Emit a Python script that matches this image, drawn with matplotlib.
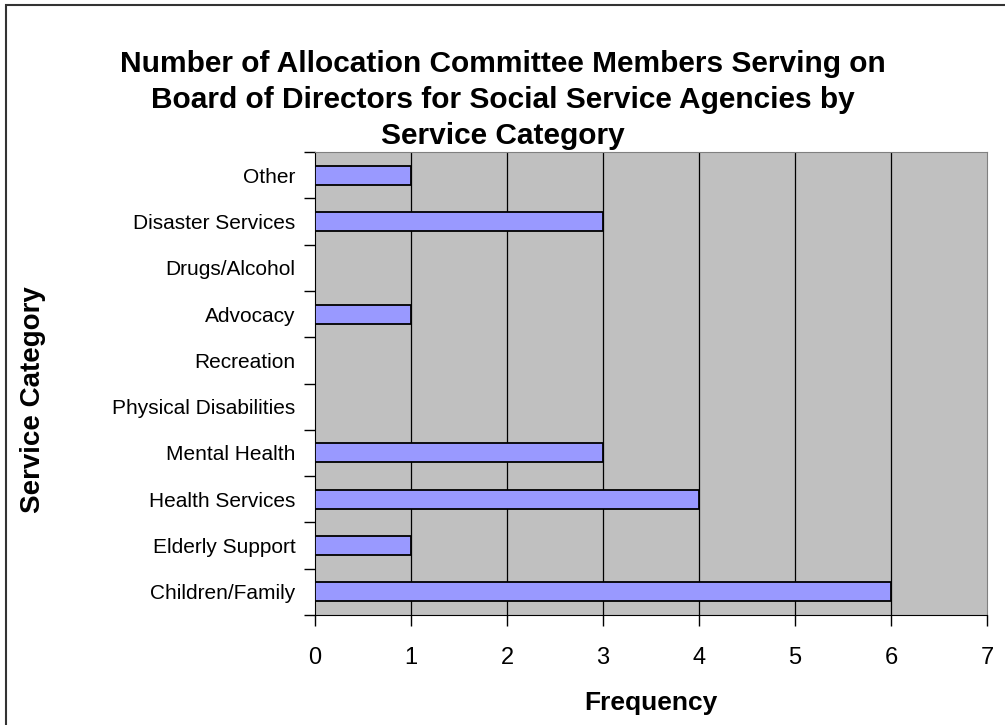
import matplotlib
matplotlib.use('Agg')
import matplotlib.pyplot as plt
from matplotlib.patches import Rectangle

categories = ['Children/Family', 'Elderly Support', 'Health Services', 'Mental Health',
              'Physical Disabilities', 'Recreation', 'Advocacy', 'Drugs/Alcohol',
              'Disaster Services', 'Other']
frequency = [6, 1, 4, 3, 0, 0, 1, 0, 3, 1]
x_ticks = [0, 1, 2, 3, 4, 5, 6, 7]

plt.rcParams['font.family'] = ['Liberation Sans', 'DejaVu Sans']

fig = plt.figure(figsize=(10.05, 7.25), dpi=100)
ax = fig.add_axes([0.3134, 0.1517, 0.982 - 0.3134, 0.7903 - 0.1517])

ax.set_facecolor('#C0C0C0')
positions = list(range(len(categories)))
ax.barh(positions, frequency, height=0.41, color='#9999FF', edgecolor='black',
        linewidth=1.3, zorder=3)

ax.set_xlim(0, 7)
ax.set_ylim(-0.5, len(categories) - 0.5)
ax.set_xticks(x_ticks)
ax.set_xticklabels([str(t) for t in x_ticks], fontsize=17)
ax.set_yticks(positions)
ax.set_yticklabels(categories, fontsize=15)
ax.tick_params(axis='y', length=0, pad=14)
ax.tick_params(axis='x', length=8, width=1, pad=15)

# category boundary ticks
ax.set_yticks([p - 0.5 for p in positions] + [len(categories) - 0.5], minor=True)
ax.tick_params(axis='y', which='minor', length=8, width=1)

for v in x_ticks[1:-1]:
    ax.axvline(v, color='black', linewidth=0.9, zorder=2)

ax.spines['left'].set_color('black')
ax.spines['bottom'].set_color('black')
ax.spines['top'].set_color('#808080')
ax.spines['right'].set_color('#808080')

fig.text(0.648, 1 - 703 / 725, 'Frequency', ha='center', va='center',
         fontsize=19, fontweight='bold')
fig.text(33 / 1005, 1 - 400 / 725, 'Service Category', ha='center', va='center',
         rotation=90, fontsize=20, fontweight='bold')

fig.text(0.5, 0.931, 'Number of Allocation Committee Members Serving on\n'
         'Board of Directors for Social Service Agencies by\n'
         'Service Category', ha='center', va='top', fontsize=21.5,
         fontweight='bold', linespacing=1.37)

fig.patches.append(Rectangle((6 / 1005, -0.02), 1.05, 1.02 - 5 / 725,
                             transform=fig.transFigure, fill=False,
                             edgecolor='#333333', linewidth=1.5))

fig.savefig('out.png', dpi=100)
